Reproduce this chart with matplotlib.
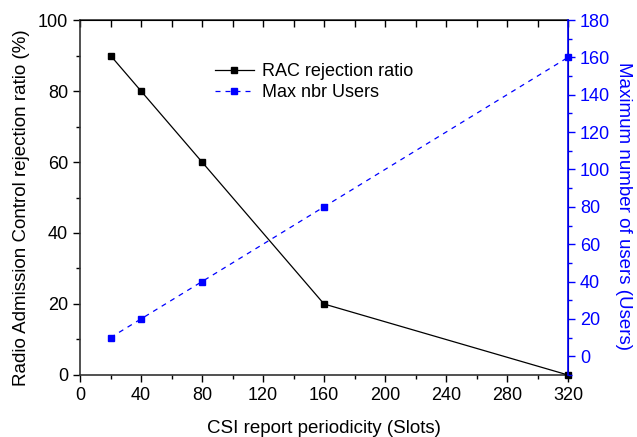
import matplotlib
matplotlib.use("Agg")
import matplotlib.pyplot as plt
from matplotlib.ticker import MultipleLocator

plt.rcParams["font.family"] = ["Liberation Sans", "DejaVu Sans"]

# datos
periodicity = [20, 40, 80, 160, 320]
rac_rejection = [90, 80, 60, 20, 0]
max_users = [10, 20, 40, 80, 160]

BLUE = "#0000ff"

fig = plt.figure(figsize=(6.37, 4.37), dpi=100)
ax1 = fig.add_axes([0.1256, 0.1419, 0.7661, 0.8123])
ax2 = ax1.twinx()

l1, = ax1.plot(periodicity, rac_rejection, color="black", linewidth=0.9,
               marker="s", markersize=5, label="RAC rejection ratio", clip_on=False, zorder=3)
l2, = ax2.plot(periodicity, max_users, color=BLUE, linewidth=0.9, linestyle=(0, (4, 4)),
               marker="s", markersize=5, label="Max nbr Users", clip_on=False, zorder=3)

ax1.set_xlim(0, 320)
ax1.set_ylim(0, 100)
ax2.set_ylim(-10, 180)

ax1.xaxis.set_major_locator(MultipleLocator(40))
ax1.xaxis.set_minor_locator(MultipleLocator(20))
ax1.yaxis.set_major_locator(MultipleLocator(20))
ax1.yaxis.set_minor_locator(MultipleLocator(10))
ax2.yaxis.set_minor_locator(MultipleLocator(10))
ax2.set_yticks(range(0, 181, 20))

ax1.tick_params(axis="both", which="major", labelsize=13, length=5, width=1, direction="out")
ax1.tick_params(axis="both", which="minor", length=3, width=1, direction="out")
ax2.tick_params(axis="y", which="major", labelsize=13, length=5, width=1,
                colors=BLUE, direction="out")
ax2.tick_params(axis="y", which="minor", length=3, width=1, colors=BLUE, direction="out")

# marcas hacia adentro en el borde superior
top = ax1.secondary_xaxis("top")
top.xaxis.set_major_locator(MultipleLocator(20))
top.tick_params(axis="x", which="major", direction="in", length=5, width=1, labeltop=False)
top.spines["top"].set_linewidth(1.2)
top.spines["top"].set_color("#333333")

for s in ["left", "bottom"]:
    ax1.spines[s].set_linewidth(1.2)
    ax1.spines[s].set_color("#333333")
ax2.spines["right"].set_color(BLUE)
ax2.spines["right"].set_linewidth(1.2)
for s in ["left", "bottom", "top"]:
    ax2.spines[s].set_visible(False)

ax1.set_xlabel("CSI report periodicity (Slots)", fontsize=13.5, labelpad=12)
ax1.set_ylabel("Radio Admission Control rejection ratio (%)", fontsize=13.5, labelpad=6)
ax2.set_ylabel("Maximum number of users (Users)", fontsize=13.5, color=BLUE,
               rotation=270, labelpad=16)
ax1.yaxis.label.set_y(0.47)
ax2.yaxis.label.set_y(0.475)

fig.legend(handles=[l1, l2], loc="upper left", bbox_to_anchor=(0.312, 0.892),
           frameon=False, fontsize=13, handlelength=2.15, handletextpad=0.45,
           labelspacing=0.2)

plt.savefig("out.png", dpi=100)
plt.close(fig)
